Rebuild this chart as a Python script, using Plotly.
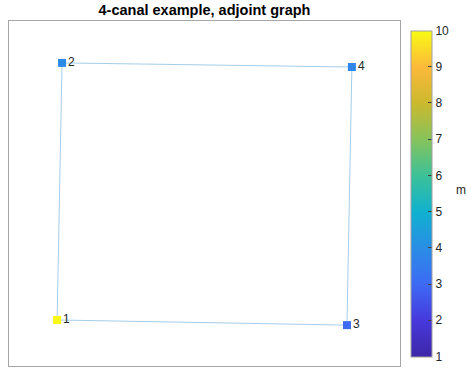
import plotly.graph_objects as go

# ---- data ----
node_labels = ["1", "2", "3", "4"]
node_x = [0.0, 0.017, 1.0, 1.017]
node_y = [0.0, 1.0, -0.02, 0.984]
node_val = [10, 3.9, 3.0, 3.8]
edge_src = [1, 2, 4, 3]
edge_dst = [2, 4, 3, 1]
cbar_ticks = [1, 2, 3, 4, 5, 6, 7, 8, 9, 10]

parula = [
    [0.0, "#3e26a8"],
    [0.111, "#4638dc"],
    [0.222, "#3d6af5"],
    [0.333, "#2a8de6"],
    [0.444, "#10b1d0"],
    [0.556, "#3cc198"],
    [0.667, "#86c35c"],
    [0.778, "#cbb92e"],
    [0.889, "#fcb93a"],
    [1.0, "#f9fb14"],
]

ex, ey = [], []
for s, d in zip(edge_src, edge_dst):
    ex += [node_x[s - 1], node_x[d - 1], None]
    ey += [node_y[s - 1], node_y[d - 1], None]

fig = go.Figure()
fig.add_trace(go.Scatter(
    x=ex, y=ey, mode="lines",
    line=dict(color="rgba(0,114,189,0.45)", width=0.8),
    hoverinfo="skip", showlegend=False,
))
fig.add_trace(go.Scatter(
    x=node_x, y=node_y, mode="markers+text",
    text=node_labels, textposition="middle right",
    textfont=dict(family="Liberation Sans, Arial", size=12, color="#262626"),
    marker=dict(symbol="square", size=8, color=node_val, colorscale=parula,
                cmin=1, cmax=10,
                colorbar=dict(
                    thickness=21, len=346, lenmode="pixels",
                    x=(401 - 9) / 391, xanchor="left", xref="paper",
                    y=0.5, yanchor="middle",
                    outlinecolor="#a0a0a0", outlinewidth=1,
                    tickvals=cbar_ticks, ticks="inside", ticklen=4,
                    tickcolor="#404040",
                    tickfont=dict(family="Liberation Sans, Arial", size=12, color="#262626"),
                )),
    showlegend=False,
))

fig.add_annotation(
    text="m", xref="paper", yref="paper",
    x=(454 - 9) / 391, y=(366 - 190) / 345,
    xanchor="left", yanchor="middle", showarrow=False,
    font=dict(family="Liberation Sans, Arial", size=12, color="#262626"),
)

fig.update_layout(
    width=467, height=374,
    margin=dict(l=9, r=67, t=21, b=8, autoexpand=False),
    paper_bgcolor="white", plot_bgcolor="white",
    title=dict(text="<b>4-canal example, adjoint graph</b>",
               x=204.5 / 467, xanchor="center",
               y=1 - 10 / 374, yanchor="middle",
               font=dict(family="Liberation Sans, Arial", size=14.5, color="#000000")),
    xaxis=dict(range=[-0.166, 1.183], showgrid=False, zeroline=False,
               showticklabels=False, ticks="", showline=True, mirror=True,
               linecolor="#a6a6a6", linewidth=1),
    yaxis=dict(range=[-0.179, 1.163], showgrid=False, zeroline=False,
               showticklabels=False, ticks="", showline=True, mirror=True,
               linecolor="#a6a6a6", linewidth=1),
)

fig.write_html("out.html")
